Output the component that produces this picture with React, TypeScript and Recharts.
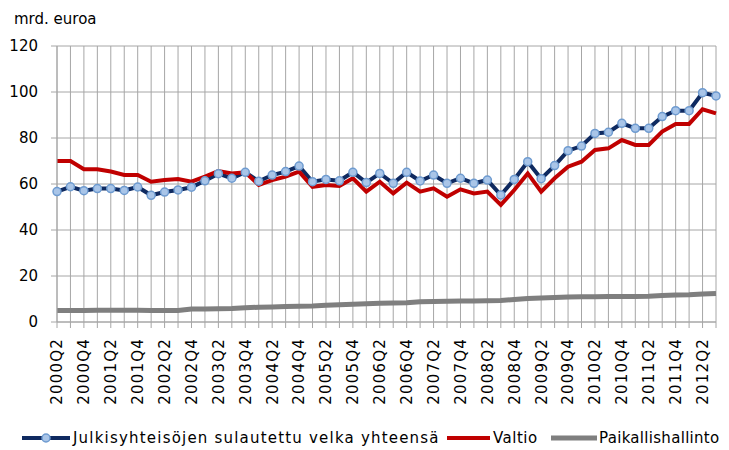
import React from 'react';
import { LineChart, Line, XAxis, YAxis, CartesianGrid, Legend, Label } from 'recharts';

const quarters = [
  '2000Q2','2000Q3','2000Q4','2001Q1','2001Q2','2001Q3','2001Q4','2002Q1','2002Q2','2002Q3',
  '2002Q4','2003Q1','2003Q2','2003Q3','2003Q4','2004Q1','2004Q2','2004Q3','2004Q4','2005Q1',
  '2005Q2','2005Q3','2005Q4','2006Q1','2006Q2','2006Q3','2006Q4','2007Q1','2007Q2','2007Q3',
  '2007Q4','2008Q1','2008Q2','2008Q3','2008Q4','2009Q1','2009Q2','2009Q3','2009Q4','2010Q1',
  '2010Q2','2010Q3','2010Q4','2011Q1','2011Q2','2011Q3','2011Q4','2012Q1','2012Q2','2012Q3',
];

const julkisyhteisot = [
  56.7, 58.8, 57.1, 58.0, 58.0, 57.2, 58.7, 55.1, 56.5, 57.4,
  58.6, 61.4, 64.5, 62.5, 65.1, 61.2, 63.9, 65.4, 67.8, 61.0,
  62.0, 61.4, 65.1, 60.6, 64.6, 60.3, 65.1, 61.3, 63.9, 60.3,
  62.5, 60.3, 61.7, 55.2, 62.0, 69.7, 62.3, 68.0, 74.5, 76.5,
  82.0, 82.5, 86.4, 84.2, 84.2, 89.3, 91.9, 91.9, 99.7, 98.3,
];

const valtio = [
  70.0, 70.0, 66.4, 66.4, 65.4, 63.9, 63.9, 61.0, 61.7, 62.2,
  61.0, 63.2, 65.6, 64.6, 65.1, 59.6, 61.7, 63.2, 65.4, 58.8,
  59.6, 59.1, 62.5, 56.7, 61.0, 55.9, 60.6, 56.7, 58.1, 54.5,
  57.7, 55.9, 56.7, 50.9, 57.4, 64.6, 56.7, 62.5, 67.5, 69.7,
  74.8, 75.5, 79.1, 77.0, 77.0, 82.8, 86.1, 86.1, 92.5, 90.7,
];

const paikallishallinto = [
  5.0, 5.0, 5.0, 5.1, 5.1, 5.1, 5.1, 5.0, 5.0, 5.0,
  5.6, 5.7, 5.8, 5.9, 6.2, 6.4, 6.5, 6.7, 6.9, 7.0,
  7.3, 7.5, 7.7, 7.9, 8.1, 8.3, 8.4, 8.8, 8.9, 9.0,
  9.1, 9.1, 9.2, 9.3, 9.8, 10.2, 10.4, 10.7, 10.9, 11.0,
  11.0, 11.1, 11.1, 11.1, 11.2, 11.5, 11.7, 11.8, 12.2, 12.4,
];

const yTicks = [0, 20, 40, 60, 80, 100, 120];
const unitLabel = 'mrd. euroa';
const seriesNames = [
  'Julkisyhteisöjen sulautettu velka yhteensä',
  'Valtio',
  'Paikallishallinto',
];

const data = quarters.map((q, i) => ({
  q,
  total: julkisyhteisot[i],
  valtio: valtio[i],
  paik: paikallishallinto[i],
}));

const BLUE = '#0F2A60';
const RED = '#C00000';
const GRAY = '#7F7F7F';
const GRID = '#A6A6A6';
const FONT = '"DejaVu Sans", Verdana, sans-serif';

const XTick = (props: any) => {
  const { x, y, payload, index } = props;
  if (index % 2 !== 0) return null;
  return (
    <text
      x={x}
      y={y + 10}
      transform={`rotate(-90, ${x}, ${y + 10})`}
      textAnchor="end"
      dy="0.36em"
      fontSize={15}
      letterSpacing={1.2}
      fontFamily={FONT}
      fill="#000"
    >
      {payload.value}
    </text>
  );
};

const YTick = (props: any) => {
  const { x, y, payload } = props;
  return (
    <text x={x} y={y} dy="0.36em" textAnchor="end" fontSize={15} fontFamily={FONT} fill="#000">
      {payload.value}
    </text>
  );
};

const renderLegend = () => (
  <svg width={729} height={26} style={{ display: 'block' }}>
    <line x1={22} x2={70} y1={13} y2={13} stroke={BLUE} strokeWidth={4} />
    <circle cx={46} cy={13} r={4} fill="#A9C5E8" stroke="#6E9BD0" strokeWidth={1.5} />
    <text x={73} y={13} dy="0.36em" fontSize={15} letterSpacing={1.2} fontFamily={FONT} fill="#000">
      {seriesNames[0]}
    </text>
    <line x1={447} x2={490} y1={13} y2={13} stroke={RED} strokeWidth={4} />
    <text x={493} y={13} dy="0.36em" fontSize={15} letterSpacing={0.5} fontFamily={FONT} fill="#000">
      {seriesNames[1]}
    </text>
    <line x1={551} x2={597} y1={13} y2={13} stroke={GRAY} strokeWidth={5} />
    <text x={599} y={13} dy="0.36em" fontSize={15} letterSpacing={0.3} fontFamily={FONT} fill="#000">
      {seriesNames[2]}
    </text>
  </svg>
);

const UnitLabel = () => (
  <text x={14} y={24} fontSize={15} fontFamily={FONT} fill="#000">
    {unitLabel}
  </text>
);

export default function App() {
  return (
    <div style={{ position: 'absolute', left: 0, top: 0, width: 729, height: 450, background: '#fff' }}>
      <LineChart
        width={729}
        height={450}
        data={data}
        margin={{ top: 46, right: 13, bottom: 0, left: 0 }}
      >
        <CartesianGrid stroke={GRID} strokeWidth={1} vertical={true} horizontal={true} />
        <XAxis
          dataKey="q"
          interval={0}
          height={102}
          tickSize={6}
          tickMargin={0}
          tickLine={{ stroke: GRID }}
          axisLine={{ stroke: GRID }}
          tick={<XTick />}
          padding={{ left: 0, right: 0 }}
        />
        <YAxis
          domain={[0, 120]}
          ticks={yTicks}
          width={57}
          tickSize={6}
          tickMargin={13}
          tickLine={{ stroke: GRID }}
          axisLine={{ stroke: GRID }}
          tick={<YTick />}
        >
          <Label content={<UnitLabel />} />
        </YAxis>
        <Legend
          verticalAlign="bottom"
          content={renderLegend}
          wrapperStyle={{ position: 'absolute', left: 0, top: 425, width: 729, height: 26 }}
        />
        <Line
          type="linear"
          dataKey="total"
          name={seriesNames[0]}
          stroke={BLUE}
          strokeWidth={4}
          dot={{ r: 4, fill: '#A9C5E8', stroke: '#6E9BD0', strokeWidth: 1.5 }}
          isAnimationActive={false}
        />
        <Line
          type="linear"
          dataKey="valtio"
          name={seriesNames[1]}
          stroke={RED}
          strokeWidth={4}
          dot={false}
          isAnimationActive={false}
        />
        <Line
          type="linear"
          dataKey="paik"
          name={seriesNames[2]}
          stroke={GRAY}
          strokeWidth={5}
          dot={false}
          isAnimationActive={false}
        />
      </LineChart>
    </div>
  );
}
